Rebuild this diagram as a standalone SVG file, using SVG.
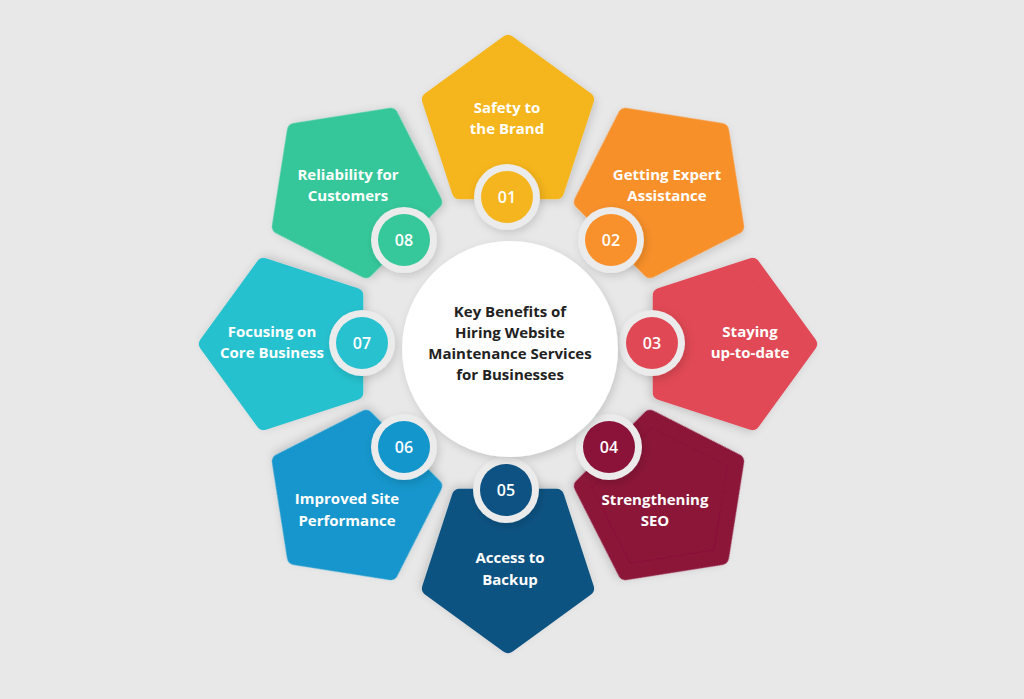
<svg xmlns="http://www.w3.org/2000/svg" xmlns:xlink="http://www.w3.org/1999/xlink" width="1024" height="699" viewBox="0 0 1024 699">
<defs>
<path id="pent" d="M0,-82 L78,-25.3 L48.2,66.3 L-48.2,66.3 L-78,-25.3 Z" stroke-width="16" stroke-linejoin="round"/>
<filter id="sh" x="-30%" y="-30%" width="160%" height="160%"><feDropShadow dx="2" dy="3" stdDeviation="4" flood-color="#000" flood-opacity="0.15"/></filter>
</defs>
<style>
.lbl{font-family:"Open Sans","Liberation Sans",sans-serif;font-weight:700;font-size:15px;fill:#fff;text-anchor:middle}
.num{font-family:"Open Sans","Liberation Sans",sans-serif;font-weight:600;font-size:16px;fill:#fff;text-anchor:middle}
.ring{fill:#ebebeb;filter:url(#sh)}
.ctr{font-family:"Open Sans","Liberation Sans",sans-serif;font-weight:700;font-size:15px;fill:#222;text-anchor:middle}
</style>
<rect width="1024" height="699" fill="#e8e8e8"/>
<g id="n1"><use xlink:href="#pent" href="#pent" transform="translate(508,125)" fill="#f5b51e" stroke="#f5b51e" filter="url(#sh)"/><text class="lbl" x="507" y="113">Safety to</text><text class="lbl" x="507" y="134">the Brand</text></g>
<g id="n2"><use href="#pent" transform="translate(663,189) rotate(45)" fill="#f8902c" stroke="#f8902c" filter="url(#sh)"/><text class="lbl" x="667" y="180">Getting Expert</text><text class="lbl" x="667" y="201">Assistance</text></g>
<g id="n3"><use href="#pent" transform="translate(727,344) rotate(90)" fill="#e04855" stroke="#e04855" filter="url(#sh)"/><text class="lbl" x="750" y="337">Staying</text><text class="lbl" x="750" y="358">up-to-date</text></g>
<g id="n4"><use href="#pent" transform="translate(663,499) rotate(135)" fill="#8b1239" stroke="#8b1239" filter="url(#sh)"/><text class="lbl" x="655" y="505">Strengthening</text><text class="lbl" x="655" y="526">SEO</text></g>
<g id="n5"><use href="#pent" transform="translate(508,563) rotate(180)" fill="#0d5282" stroke="#0d5282" filter="url(#sh)"/><text class="lbl" x="510" y="563">Access to</text><text class="lbl" x="510" y="585">Backup</text></g>
<g id="n6"><use href="#pent" transform="translate(353,499) rotate(225)" fill="#1396cc" stroke="#1396cc" filter="url(#sh)"/><text class="lbl" x="347" y="504">Improved Site</text><text class="lbl" x="347" y="526">Performance</text></g>
<g id="n7"><use href="#pent" transform="translate(289,344) rotate(270)" fill="#27c1cf" stroke="#27c1cf" filter="url(#sh)"/><text class="lbl" x="272" y="337">Focusing on</text><text class="lbl" x="272" y="358">Core Business</text></g>
<g id="n8"><use href="#pent" transform="translate(353,189) rotate(315)" fill="#36c79a" stroke="#36c79a" filter="url(#sh)"/><text class="lbl" x="348" y="180">Reliability for</text><text class="lbl" x="348" y="201">Customers</text></g>
<g id="badges">
<circle class="ring" cx="507" cy="197" r="33"/><circle cx="507" cy="197" r="26" fill="#f5b51e"/><text class="num" x="507" y="203">01</text>
<circle class="ring" cx="611" cy="240" r="33"/><circle cx="611" cy="240" r="26" fill="#f8902c"/><text class="num" x="611" y="246">02</text>
<circle class="ring" cx="652" cy="343" r="33"/><circle cx="652" cy="343" r="26" fill="#e04855"/><text class="num" x="652" y="349">03</text>
<circle class="ring" cx="609" cy="447" r="33"/><circle cx="609" cy="447" r="26" fill="#8b1239"/><text class="num" x="609" y="453">04</text>
<circle class="ring" cx="506" cy="490" r="33"/><circle cx="506" cy="490" r="26" fill="#0d5282"/><text class="num" x="506" y="496">05</text>
<circle class="ring" cx="404" cy="447" r="33"/><circle cx="404" cy="447" r="26" fill="#1396cc"/><text class="num" x="404" y="453">06</text>
<circle class="ring" cx="362" cy="343" r="33"/><circle cx="362" cy="343" r="26" fill="#27c1cf"/><text class="num" x="362" y="349">07</text>
<circle class="ring" cx="404" cy="240" r="33"/><circle cx="404" cy="240" r="26" fill="#36c79a"/><text class="num" x="404" y="246">08</text>
</g>
<g id="center"><circle cx="510" cy="349" r="108" fill="#fff" filter="url(#sh)"/>
<text class="ctr" x="510" y="317">Key Benefits of</text><text class="ctr" x="510" y="338">Hiring Website</text><text class="ctr" x="510" y="359">Maintenance Services</text><text class="ctr" x="510" y="380">for Businesses</text></g>
<g id="connectors"/>
</svg>
